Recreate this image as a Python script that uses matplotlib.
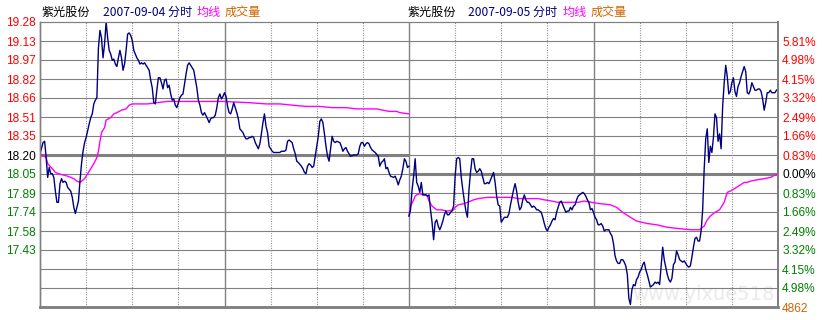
import numpy as np
import matplotlib
matplotlib.use('Agg')
import matplotlib.pyplot as plt

# 紫光股份 intraday, 2007-09-04 and 2007-09-05 (minute of session, price)
day1_min = [0, 2, 3, 4, 5, 6, 7, 8, 9, 10, 11, 12, 13, 14, 15, 16, 17, 18, 20, 21,
            22, 23, 24, 25, 26, 27, 28, 29, 30, 32, 33, 34, 35, 36, 37, 38, 39, 40, 41, 42,
            43, 44, 45, 46, 47, 48, 49, 50, 51, 52, 53, 54, 55, 56, 57, 58, 59, 60, 61, 63,
            64, 65, 66, 67, 68, 70, 71, 72, 73, 74, 75, 76, 77, 78, 79, 80, 81, 82, 83, 84,
            85, 86, 87, 88, 89, 90, 91, 92, 93, 95, 96, 97, 98, 99, 100, 101, 102, 103, 104, 105,
            106, 107, 109, 110, 111, 112, 113, 114, 115, 116, 117, 118, 119, 120, 121, 122, 123, 124, 125, 126,
            127, 128, 129, 130, 132, 133, 134, 135, 136, 137, 138, 139, 140, 142, 143, 144, 145, 146, 147, 148,
            149, 151, 152, 154, 156, 157, 159, 160, 161, 162, 163, 164, 165, 166, 167, 168, 170, 171, 172, 173,
            174, 175, 176, 177, 178, 179, 181, 182, 183, 184, 185, 186, 187, 188, 189, 190, 191, 192, 193, 195,
            196, 197, 198, 199, 200, 201, 202, 204, 206, 207, 208, 209, 210, 211, 212, 213, 214, 215, 216, 217,
            218, 220, 221, 222, 223, 224, 225, 226, 227, 228, 230, 231, 232, 233, 234, 235, 236, 237, 238, 239,
            240]
day1_price = [18.21, 18.30, 18.31, 18.18, 18.02, 18.10, 18.05, 18.05, 18.02, 17.91, 17.82, 17.82, 17.97, 18.01, 17.98, 17.99, 17.98, 17.94, 17.91, 17.86,
              17.78, 17.73, 17.78, 17.83, 17.99, 18.13, 18.23, 18.30, 18.34, 18.45, 18.50, 18.53, 18.61, 18.64, 18.66, 19.06, 19.20, 19.14, 18.98, 19.09,
              19.27, 19.14, 19.04, 19.01, 18.96, 18.97, 18.93, 18.91, 18.98, 19.04, 18.98, 18.88, 18.93, 19.04, 19.17, 19.18, 19.16, 19.12, 19.04, 18.98,
              18.96, 18.93, 18.94, 18.93, 18.94, 18.90, 18.88, 18.80, 18.74, 18.62, 18.61, 18.72, 18.82, 18.82, 18.78, 18.73, 18.80, 18.81, 18.74, 18.76,
              18.69, 18.64, 18.65, 18.60, 18.58, 18.62, 18.66, 18.68, 18.69, 18.85, 18.92, 18.94, 18.92, 18.90, 18.88, 18.81, 18.74, 18.64, 18.60, 18.54,
              18.52, 18.54, 18.49, 18.46, 18.49, 18.50, 18.50, 18.52, 18.58, 18.66, 18.69, 18.65, 18.67, 18.70, 18.67, 18.59, 18.54, 18.53, 18.57, 18.62,
              18.58, 18.54, 18.49, 18.41, 18.38, 18.35, 18.33, 18.33, 18.34, 18.34, 18.35, 18.34, 18.30, 18.25, 18.29, 18.37, 18.46, 18.53, 18.43, 18.38,
              18.27, 18.23, 18.22, 18.22, 18.22, 18.23, 18.23, 18.24, 18.31, 18.32, 18.31, 18.30, 18.25, 18.21, 18.15, 18.14, 18.11, 18.09, 18.06, 18.05,
              18.11, 18.13, 18.12, 18.10, 18.11, 18.19, 18.35, 18.47, 18.49, 18.46, 18.37, 18.27, 18.19, 18.15, 18.25, 18.35, 18.31, 18.30, 18.31, 18.30,
              18.27, 18.23, 18.25, 18.26, 18.23, 18.21, 18.19, 18.20, 18.20, 18.21, 18.27, 18.30, 18.30, 18.27, 18.29, 18.30, 18.29, 18.26, 18.24, 18.23,
              18.22, 18.19, 18.11, 18.14, 18.15, 18.17, 18.09, 18.10, 18.06, 18.03, 18.02, 18.03, 18.00, 17.96, 18.00, 18.03, 18.09, 18.17, 18.15, 18.10,
              18.11]
day1_avg_min = [0, 4, 5, 8, 10, 12, 15, 18, 22, 24, 26, 27, 29, 30, 33, 35, 37, 38, 39, 40,
                42, 43, 46, 48, 50, 53, 56, 58, 60, 63, 70, 76, 83, 118, 119, 136, 147, 156, 164, 173,
                182, 190, 199, 206, 219, 227, 232, 234, 240]
day1_avg = [18.21, 18.18, 18.13, 18.09, 18.06, 18.05, 18.04, 18.03, 18.01, 17.99, 17.98, 17.99, 18.01, 18.03, 18.09, 18.13, 18.18, 18.23, 18.31, 18.38,
            18.42, 18.48, 18.50, 18.53, 18.54, 18.56, 18.57, 18.60, 18.61, 18.61, 18.61, 18.62, 18.63, 18.63, 18.63, 18.62, 18.61, 18.61, 18.60, 18.59,
            18.59, 18.58, 18.58, 18.57, 18.57, 18.55, 18.55, 18.54, 18.53]

# day 2: one price per minute, 0..240
day2_price = [17.71, 17.76, 17.92, 18.03, 18.17, 17.98, 17.95, 17.90, 17.98, 17.88,
              17.88, 17.88, 17.87, 17.88, 17.76, 17.66, 17.52, 17.66, 17.68, 17.63,
              17.60, 17.63, 17.67, 17.72, 17.75, 17.72, 17.72, 17.74, 17.75, 17.79,
              18.03, 18.17, 18.18, 18.17, 18.02, 17.92, 17.83, 17.75, 17.70, 17.92,
              18.06, 18.17, 18.17, 18.09, 18.06, 18.07, 18.09, 18.07, 18.02, 17.97,
              17.97, 17.98, 17.97, 18.00, 18.03, 18.06, 17.98, 17.87, 17.80, 17.79,
              17.66, 17.68, 17.70, 17.70, 17.70, 17.73, 17.80, 17.86, 17.92, 17.97,
              17.91, 17.82, 17.76, 17.78, 17.84, 17.88, 17.84, 17.82, 17.82, 17.80,
              17.78, 17.79, 17.78, 17.76, 17.76, 17.75, 17.74, 17.70, 17.65, 17.61,
              17.59, 17.62, 17.64, 17.67, 17.69, 17.68, 17.74, 17.78, 17.82, 17.83,
              17.80, 17.77, 17.74, 17.75, 17.75, 17.78, 17.76, 17.79, 17.80, 17.84,
              17.87, 17.88, 17.89, 17.90, 17.89, 17.87, 17.84, 17.82, 17.76, 17.77,
              17.74, 17.70, 17.68, 17.64, 17.64, 17.65, 17.63, 17.59, 17.60, 17.60,
              17.60, 17.57, 17.55, 17.49, 17.39, 17.35, 17.33, 17.33, 17.36, 17.36,
              17.34, 17.31, 17.24, 17.05, 17.00, 17.12, 17.16, 17.15, 17.20, 17.22,
              17.26, 17.28, 17.32, 17.34, 17.28, 17.24, 17.19, 17.14, 17.15, 17.16,
              17.18, 17.17, 17.18, 17.16, 17.31, 17.46, 17.36, 17.30, 17.24, 17.20,
              17.18, 17.21, 17.32, 17.34, 17.43, 17.40, 17.36, 17.35, 17.34, 17.35,
              17.33, 17.31, 17.30, 17.31, 17.38, 17.46, 17.53, 17.54, 17.51, 17.51,
              17.59, 17.76, 18.09, 18.33, 18.41, 18.14, 18.27, 18.22, 18.34, 18.53,
              18.50, 18.31, 18.37, 18.25, 18.59, 18.78, 18.92, 18.83, 18.69, 18.71,
              18.78, 18.82, 18.71, 18.67, 18.75, 18.78, 18.83, 18.87, 18.91, 18.87,
              18.70, 18.69, 18.72, 18.78, 18.75, 18.72, 18.72, 18.73, 18.73, 18.71,
              18.65, 18.56, 18.62, 18.70, 18.70, 18.72, 18.70, 18.70, 18.70, 18.72,
              18.73]
day2_avg_min = [0, 1, 3, 4, 5, 7, 9, 11, 12, 13, 15, 16, 18, 21, 25, 29, 30, 32, 36, 40,
                42, 45, 51, 58, 67, 71, 84, 88, 93, 97, 106, 110, 114, 119, 124, 131, 135, 139, 144, 148,
                155, 161, 168, 175, 183, 189, 192, 194, 196, 199, 202, 205, 207, 209, 213, 218, 220, 222, 226, 231,
                235, 240]
day2_avg = [17.71, 17.79, 17.84, 17.87, 17.88, 17.89, 17.88, 17.88, 17.87, 17.83, 17.79, 17.78, 17.76, 17.76, 17.75, 17.76, 17.78, 17.80, 17.81, 17.83,
            17.84, 17.85, 17.86, 17.86, 17.86, 17.85, 17.85, 17.84, 17.83, 17.82, 17.82, 17.82, 17.83, 17.82, 17.81, 17.80, 17.78, 17.74, 17.70, 17.67,
            17.65, 17.64, 17.62, 17.61, 17.60, 17.60, 17.63, 17.68, 17.71, 17.74, 17.76, 17.82, 17.90, 17.91, 17.94, 17.98, 17.98, 17.99, 18.00, 18.01,
            18.02, 18.05]

left_labels = ['19.28', '19.13', '18.97', '18.82', '18.66', '18.51', '18.35', '18.20',
               '18.05', '17.89', '17.74', '17.58', '17.43']
right_labels = ['5.81%', '4.98%', '4.15%', '3.32%', '2.49%', '1.66%', '0.83%', '0.00%',
                '0.83%', '1.66%', '2.49%', '3.32%', '4.15%', '4.98%', '4862']

base = 18.20
step = 0.1525
levels = base + step * np.arange(7, -9, -1)   # top border ... bottom border

grey = '#808080'
navy = '#000080'
magenta = '#FF00FF'
red = '#FF0000'
green = '#008000'
orange = '#CC6600'
cjk = ['Noto Sans CJK SC', 'DejaVu Sans']

fig = plt.figure(figsize=(8.24, 3.2), dpi=100)
ax = fig.add_axes([40 / 824, 13 / 320, 738 / 824, 285 / 320])
ax.set_xlim(0, 480)
ax.set_ylim(levels[-1], levels[0])

# faint watermark in the bottom right corner
ax.text(385, levels[-1] + 0.06, 'www.yixue518', color='#EAEAEA', fontsize=14,
        family='DejaVu Sans', va='baseline', zorder=0.5)

# grid
for y in levels[1:-1]:
    ax.axhline(y, color=grey, lw=0.8, zorder=1)
for m in range(30, 480, 30):
    if m % 120 == 0:
        ax.axvline(m, color=grey, lw=1.0, zorder=1)
    else:
        ax.axvline(m, color=grey, lw=0.8, ls=(0, (0.8, 1.4)), zorder=1)

# previous close lines
ax.plot([0, 240], [levels[7], levels[7]], color=grey, lw=2.2, zorder=1.5, solid_capstyle='butt')
ax.plot([240, 480], [levels[8], levels[8]], color=grey, lw=2.2, zorder=1.5, solid_capstyle='butt')

# price and average lines
ax.plot(day1_avg_min, day1_avg, color=magenta, lw=1.0, zorder=2)
ax.plot(240 + np.array(day2_avg_min), day2_avg, color=magenta, lw=1.0, zorder=2)
ax.plot(day1_min, day1_price, color=navy, lw=1.0, zorder=3)
ax.plot(240 + np.arange(len(day2_price)), day2_price, color=navy, lw=1.0, zorder=3)

ax.set_xticks([])
ax.set_yticks(levels[:len(left_labels)])
ax.set_yticklabels(left_labels, family='Liberation Sans', fontsize=8.6)
ax.tick_params(axis='y', length=0, pad=3)
for i, lab in enumerate(ax.get_yticklabels()):
    lab.set_color(red if i < 7 else ('black' if i == 7 else green))

ax2 = ax.twinx()
ax2.set_ylim(levels[-1], levels[0])
ax2.set_yticks(levels[1:])
ax2.set_yticklabels(right_labels, family='Liberation Sans', fontsize=8.6)
ax2.tick_params(axis='y', length=0, pad=3)
for i, lab in enumerate(ax2.get_yticklabels()):
    if i < 7:
        lab.set_color(red)
    elif i == 7:
        lab.set_color('black')
    elif i == len(right_labels) - 1:
        lab.set_color(orange)
    else:
        lab.set_color(green)

for a in (ax, ax2):
    for s in a.spines.values():
        s.set_color(grey)
    a.spines['top'].set_linewidth(0.8)
    a.spines['left'].set_linewidth(1.0)
    a.spines['right'].set_linewidth(1.4)
    a.spines['bottom'].set_linewidth(1.8)

# headers
ty = 1 - 12.5 / 320
heads = [(42, '紫光股份', 'black'), (103, '2007-09-04 分时', navy), (197, '均线', magenta), (225, '成交量', orange),
         (408, '紫光股份', 'black'), (468, '2007-09-05 分时', navy), (563, '均线', magenta), (591, '成交量', orange)]
for x, s, c in heads:
    fig.text(x / 824, ty, s, color=c, fontsize=8.7, family=cjk, va='center', ha='left')

fig.savefig('out.png', dpi=100, facecolor='white')
